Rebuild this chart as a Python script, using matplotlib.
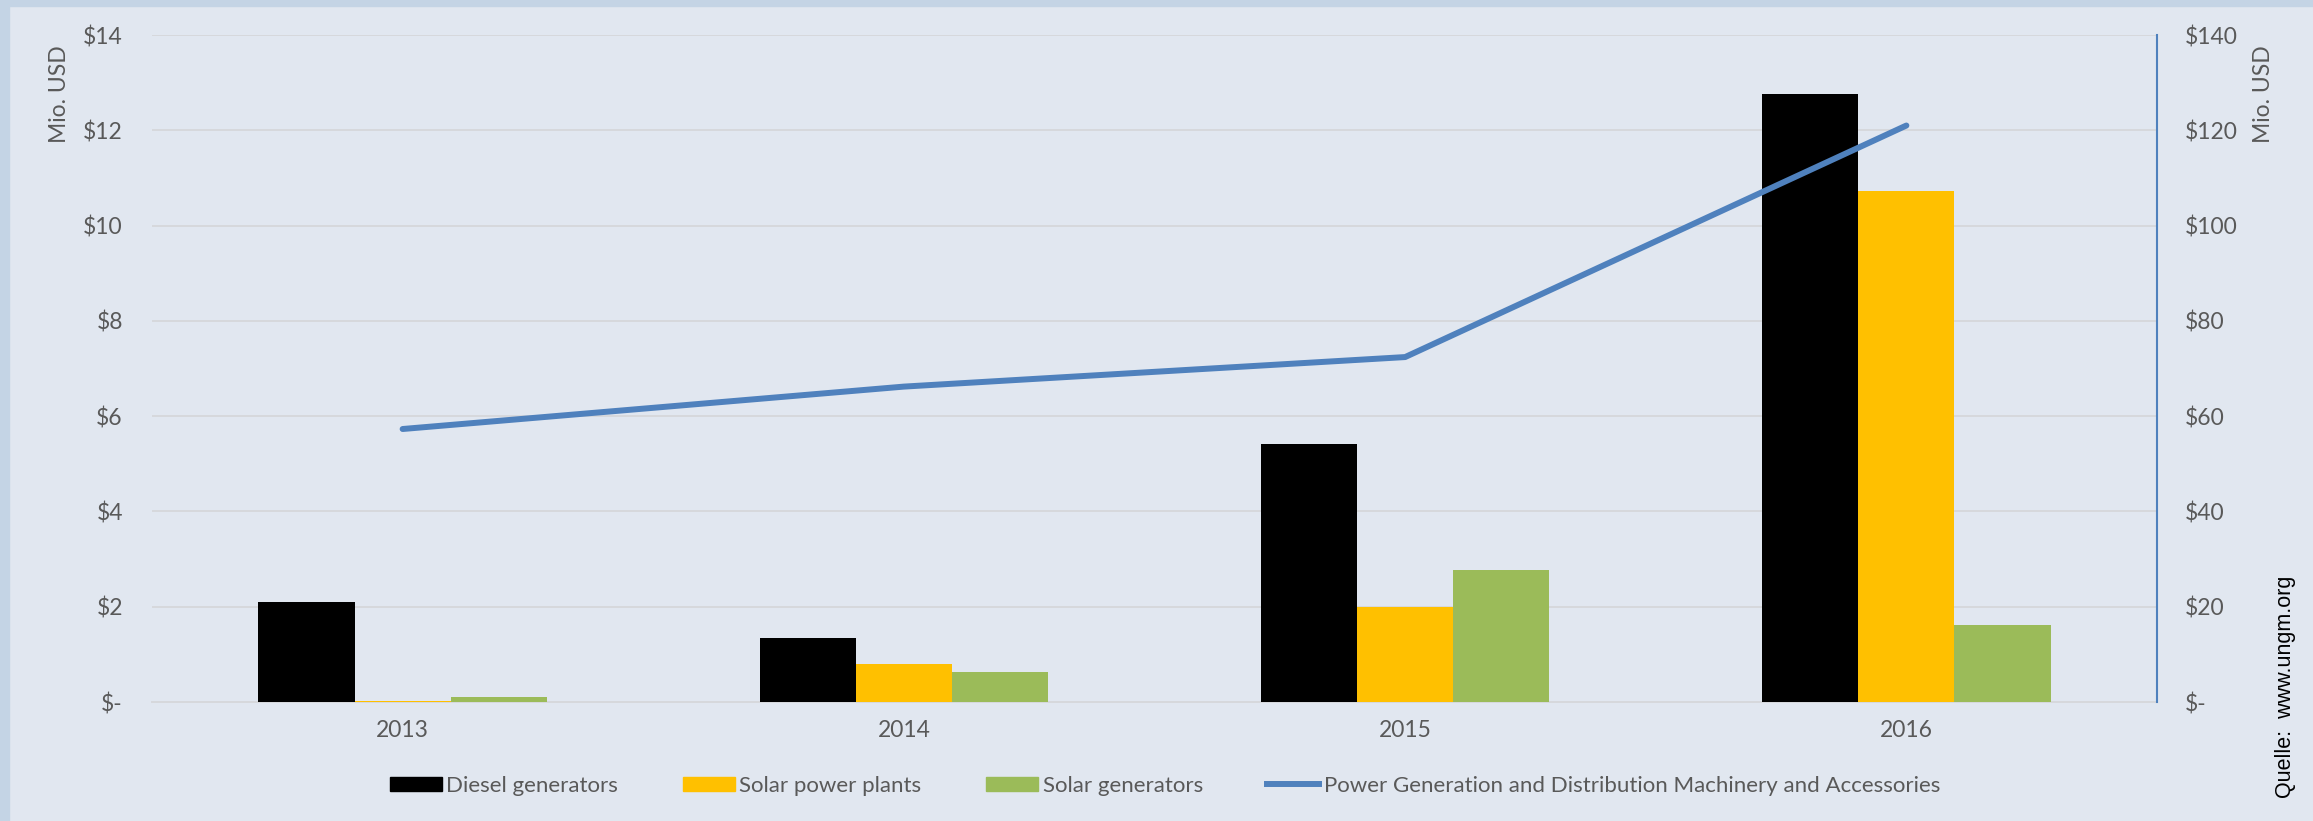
import matplotlib.pyplot as plt
import numpy as np
from matplotlib.patches import Rectangle
from matplotlib.lines import Line2D

# Data
years = ['2013', '2014', '2015', '2016']
diesel_generators = [2.09, 1.34, 5.42, 12.77]
solar_power_plants = [0.02, 0.79, 2.00, 10.72]
solar_generators = [0.10, 0.62, 2.77, 1.62]
power_generation = [57.3, 66.2, 72.4, 121.0]   # right axis

left_ticks = [0, 2, 4, 6, 8, 10, 12, 14]
right_ticks = [0, 20, 40, 60, 80, 100, 120, 140]

labels = ['Diesel generators', 'Solar power plants', 'Solar generators',
          'Power Generation and Distribution Machinery and Accessories']
colors = ['#000000', '#ffc000', '#9bbb59', '#4f81bd']

plt.rcParams['font.family'] = ['Lato', 'DejaVu Sans']

W, H = 2313, 821
fig = plt.figure(figsize=(W / 100, H / 100), dpi=100)
fig.patch.set_facecolor('#e1e7f0')

# light blue frame on left and top edges
fig.patches.append(Rectangle((0, 0), 9 / W, 1, transform=fig.transFigure,
                             color='#c4d4e5', zorder=0))
fig.patches.append(Rectangle((0, 1 - 6 / H), 1, 6 / H, transform=fig.transFigure,
                             color='#c4d4e5', zorder=0))

ax = fig.add_axes([152 / W, 1 - 702 / H, (2157 - 152) / W, (702 - 35) / H])
ax.set_facecolor('none')

x = np.arange(len(years))
w = 0.192
ax.bar(x - w, diesel_generators, w, color=colors[0], zorder=3)
ax.bar(x, solar_power_plants, w, color=colors[1], zorder=3)
ax.bar(x + w, solar_generators, w, color=colors[2], zorder=3)

ax.set_xlim(-0.5, len(years) - 0.5)
ax.set_ylim(0, 14)
ax.set_yticks(left_ticks)
ax.set_yticklabels(['$-' if v == 0 else f'${v}' for v in left_ticks])
ax.set_xticks(x)
ax.set_xticklabels(years)
ax.yaxis.grid(True, color='#d6d8dc', linewidth=1.4, zorder=0)
ax.set_axisbelow(True)
ax.tick_params(axis='y', length=0, pad=21, labelsize=16.5, labelcolor='#595959')
ax.tick_params(axis='x', length=0, pad=13, labelsize=16.5, labelcolor='#595959')
for s in ['left', 'right', 'top']:
    ax.spines[s].set_visible(False)
ax.spines['bottom'].set_color('#d6d8dc')
ax.spines['bottom'].set_linewidth(1.4)

ax2 = ax.twinx()
ax2.plot(x, power_generation, color=colors[3], linewidth=4.3,
         solid_capstyle='round', zorder=4)
ax2.set_ylim(0, 140)
ax2.set_yticks(right_ticks)
ax2.set_yticklabels(['$-' if v == 0 else f'${v}' for v in right_ticks])
ax2.tick_params(axis='y', length=0, pad=20, labelsize=16.5, labelcolor='#595959')
for s in ['left', 'top', 'bottom']:
    ax2.spines[s].set_visible(False)
ax2.spines['right'].set_color('#4f81bd')
ax2.spines['right'].set_linewidth(1.5)

# axis titles placed at the top like the original
fig.text(60 / W, 1 - 94 / H, 'Mio. USD', rotation=90, ha='center', va='center',
         fontsize=16.5, color='#595959')
fig.text(2263 / W, 1 - 94 / H, 'Mio. USD', rotation=90, ha='center', va='center',
         fontsize=16.5, color='#595959')

# source note
fig.text(2286 / W, 1 - 687 / H, 'Quelle:  www.ungm.org', rotation=90,
         ha='center', va='center', fontsize=15.5, color='black',
         family='Liberation Sans')

handles = [Rectangle((0, 0), 1, 1, color=colors[0]),
           Rectangle((0, 0), 1, 1, color=colors[1]),
           Rectangle((0, 0), 1, 1, color=colors[2]),
           Line2D([0], [0], color=colors[3], linewidth=4.3)]
leg = fig.legend(handles, labels, loc='center', bbox_to_anchor=(1165 / W, 1 - 786 / H),
                 ncol=4, frameon=False, fontsize=16, handlelength=2.35,
                 handleheight=0.63, handletextpad=0.2, columnspacing=2.9)
for t in leg.get_texts():
    t.set_color('#595959')

fig.savefig('out.png', dpi=100, facecolor=fig.get_facecolor())
